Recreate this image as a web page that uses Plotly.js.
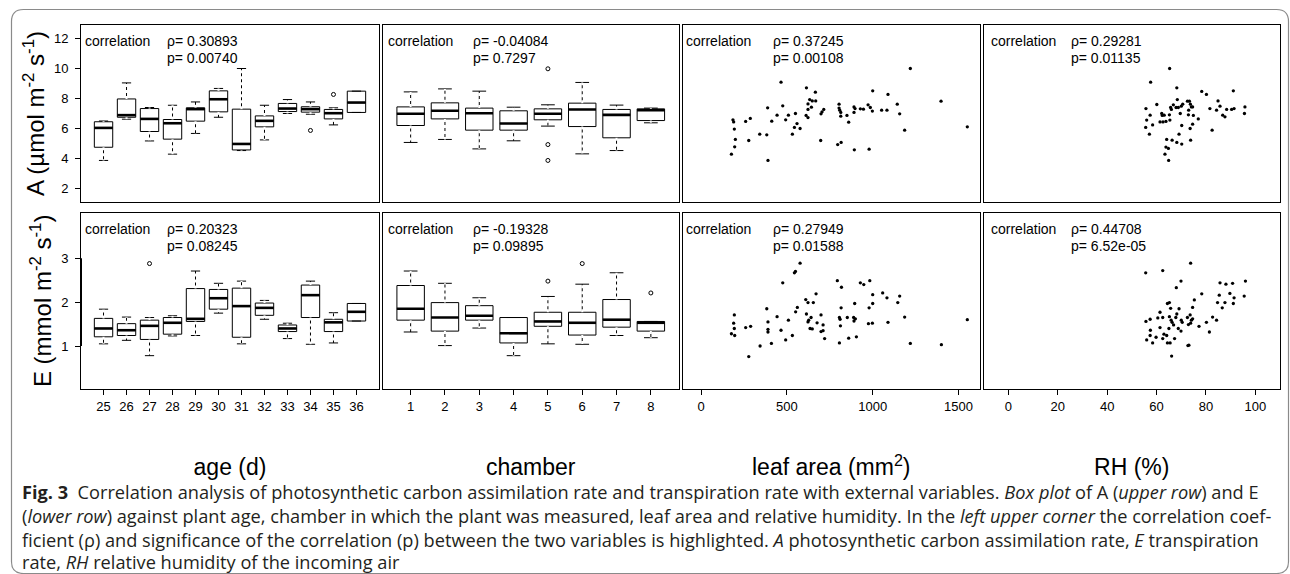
<!DOCTYPE html>
<html><head><meta charset="utf-8">
<script src="https://cdn.plot.ly/plotly-3.0.1.min.js"></script>
<style>html,body{margin:0;padding:0;background:#fff}</style>
</head><body>
<div id="chart" style="width:1290px;height:574px"></div>
<script>
// ---------------- DATA ----------------
const ageLabels = ['25','26','27','28','29','30','31','32','33','34','35','36'];
const chamberLabels = ['1','2','3','4','5','6','7','8'];

// A vs age (box statistics)
const ageA_low = [3.87, 6.62, 5.17, 4.29, 5.67, 6.75, 4.53, 5.24, 7.00, 6.95, 6.24, 7.07];
const ageA_q1  = [4.75, 6.75, 5.80, 5.29, 6.49, 7.11, 4.57, 6.11, 7.13, 7.09, 6.64, 7.07];
const ageA_med = [6.04, 6.89, 6.64, 6.35, 7.29, 7.95, 4.97, 6.51, 7.33, 7.29, 7.02, 7.73];
const ageA_q3  = [6.45, 7.97, 7.33, 6.60, 7.38, 8.51, 7.29, 6.84, 7.67, 7.45, 7.27, 8.49];
const ageA_up  = [6.50, 9.04, 7.40, 7.55, 7.77, 8.67, 10.0, 7.55, 7.93, 7.77, 7.38, 8.49];
const ageA_outCat = ['34','35'];
const ageA_outVal = [5.87, 8.27];

// E vs age
const ageE_low = [1.05, 1.13, 0.78, 1.23, 1.24, 1.75, 1.05, 1.61, 1.17, 1.04, 1.07, 1.57];
const ageE_q1  = [1.21, 1.24, 1.15, 1.27, 1.56, 1.84, 1.20, 1.70, 1.33, 1.65, 1.33, 1.57];
const ageE_med = [1.40, 1.36, 1.46, 1.53, 1.62, 2.09, 1.91, 1.87, 1.40, 2.16, 1.54, 1.78];
const ageE_q3  = [1.63, 1.51, 1.59, 1.65, 2.31, 2.29, 2.32, 1.98, 1.48, 2.39, 1.61, 1.97];
const ageE_up  = [1.84, 1.66, 1.65, 1.69, 2.71, 2.43, 2.48, 2.04, 1.52, 2.48, 1.76, 1.97];
const ageE_outCat = ['27'];
const ageE_outVal = [2.88];

// A vs chamber
const chA_low = [5.07, 5.27, 4.64, 5.18, 6.16, 4.31, 4.53, 6.38];
const chA_q1  = [6.20, 6.64, 5.89, 5.89, 6.58, 6.13, 5.38, 6.53];
const chA_med = [6.98, 7.18, 7.02, 6.33, 6.98, 7.27, 6.91, 7.22];
const chA_q3  = [7.44, 7.71, 7.36, 7.18, 7.31, 7.69, 7.27, 7.31];
const chA_up  = [8.44, 8.64, 8.49, 7.42, 7.58, 9.07, 7.56, 7.36];
const chA_outCat = ['5','5','5'];
const chA_outVal = [9.98, 4.93, 3.87];

// E vs chamber
const chE_low = [1.32, 1.01, 1.41, 0.78, 1.05, 1.04, 1.24, 1.19];
const chE_q1  = [1.59, 1.34, 1.59, 1.07, 1.45, 1.25, 1.43, 1.34];
const chE_med = [1.85, 1.65, 1.69, 1.29, 1.56, 1.53, 1.60, 1.53];
const chE_q3  = [2.38, 1.99, 1.92, 1.65, 1.77, 1.77, 2.06, 1.56];
const chE_up  = [2.71, 2.43, 2.10, 1.65, 2.13, 2.41, 2.67, 1.56];
const chE_outCat = ['5','6','8'];
const chE_outVal = [2.48, 2.88, 2.21];

// A vs leaf area (mm2)
const leafA_x = [1219,466,614,666,1000,1089,1398,388,476,623,633,648,668,643,623,715,705,699,804,804,808,814,814,850,860,891,897,891,928,946,973,986,998,1052,1083,1143,1157,1186,1551,443,412,493,509,550,612,623,559,544,577,532,342,383,278,287,260,186,190,194,200,196,177,390,697,796,816,893,979];
const leafA_y = [10.0,9.09,8.71,8.42,8.51,8.27,7.82,7.38,7.51,7.64,7.93,7.84,7.84,7.42,7.27,7.27,7.11,6.98,7.62,7.36,7.22,7.07,6.82,6.87,6.42,7.44,7.33,7.07,7.31,7.29,7.58,7.40,7.16,7.22,7.22,7.62,6.98,5.89,6.11,6.89,6.49,6.58,6.89,7.00,6.87,6.73,6.33,6.07,6.00,5.62,5.62,5.58,5.20,6.67,6.47,6.58,6.44,5.96,5.27,4.78,4.29,3.87,5.20,4.93,5.07,4.58,4.62];

// E vs leaf area
const leafE_x = [577,550,544,476,794,818,928,948,983,670,610,623,654,1000,1058,1083,1157,1146,1000,895,979,816,561,551,383,443,509,614,641,627,623,676,699,711,635,648,699,711,720,806,810,812,852,889,899,891,975,998,1089,1186,1219,1400,1551,806,860,905,532,493,466,390,390,390,410,344,278,289,260,194,190,194,196,177];
const leafE_y = [2.89,2.70,2.67,2.44,2.49,2.34,2.44,2.40,2.49,2.19,2.06,1.99,1.99,2.17,2.21,2.10,2.14,1.99,1.97,1.97,1.87,1.87,1.88,1.78,1.85,1.67,1.59,1.73,1.65,1.59,1.55,1.53,1.71,1.48,1.40,1.39,1.33,1.35,1.17,1.65,1.61,1.46,1.65,1.65,1.62,1.57,1.51,1.52,1.54,1.66,1.06,1.03,1.60,1.07,1.18,1.21,1.24,1.14,1.36,1.38,1.32,1.55,1.06,1.00,0.76,1.45,1.42,1.71,1.52,1.40,1.24,1.28];

// A vs RH (%)
const rhA_x = [65.3,57.6,68.2,78.3,80.2,91.1,68.4,84.9,55.7,60.1,57.4,56.0,55.6,58.4,57.1,62.1,62.3,61.4,62.6,63.8,65.4,65.2,65.7,66.0,66.8,67.9,68.8,70.0,70.6,72.5,73.3,73.7,74.1,74.6,73.0,69.6,72.9,74.9,76.9,74.6,73.6,70.2,69.1,64.1,66.3,68.2,70.2,73.8,63.8,64.8,63.4,64.9,82.5,81.6,84.3,85.7,86.8,87.7,88.4,90.4,91.4,95.8,95.6,63.1];
const rhA_y = [10.0,9.09,8.71,8.47,8.27,8.51,7.93,7.84,7.33,7.60,6.89,6.56,6.07,6.24,5.62,7.00,6.87,6.44,6.44,6.47,6.56,6.91,7.40,7.27,7.58,7.40,7.40,7.49,7.62,7.82,7.82,7.62,7.44,7.44,7.22,7.00,6.91,6.87,6.64,6.29,6.00,6.20,5.62,5.27,5.22,5.07,4.96,5.22,4.76,4.67,4.29,3.87,5.89,7.33,7.22,7.49,6.89,6.78,7.27,7.27,7.33,7.44,7.00,6.89];

// E vs RH
const rhE_x = [73.8,55.6,62.5,69.9,68.0,85.7,88.1,90.8,96.0,78.3,85.4,89.7,91.4,95.5,75.3,84.7,87.7,91.1,86.6,64.4,65.2,65.7,69.1,74.6,61.4,68.2,67.8,65.2,62.5,60.5,57.4,55.7,65.9,66.3,66.9,70.0,70.4,72.5,73.6,74.1,74.6,72.9,73.8,77.2,80.2,82.7,84.3,81.4,61.4,65.0,68.8,69.9,57.5,57.4,59.8,56.0,58.4,63.0,64.1,62.5,67.3,64.4,65.5,73.1,72.7,66.1];
const rhE_y = [2.89,2.67,2.72,2.48,2.33,2.44,2.41,2.43,2.48,2.19,2.16,2.20,2.10,2.14,2.05,1.99,1.99,1.97,1.87,1.97,1.99,1.86,1.85,1.88,1.77,1.73,1.65,1.67,1.65,1.64,1.61,1.56,1.59,1.54,1.48,1.59,1.54,1.65,1.71,1.59,1.62,1.49,1.52,1.45,1.54,1.66,1.59,1.32,1.42,1.40,1.40,1.34,1.36,1.24,1.20,1.14,1.07,1.27,1.24,1.17,1.17,1.07,1.07,1.02,1.01,0.77];

// correlation results (panel order: A-age, A-chamber, A-leaf, A-RH, E-age, E-chamber, E-leaf, E-RH)
const corrRho = ['0.30893','-0.04084','0.37245','0.29281','0.20323','-0.19328','0.27949','0.44708'];
const corrP   = ['0.00740','0.7297','0.00108','0.01135','0.08245','0.09895','0.01588','6.52e-05'];

// axis titles / ticks
const xTitles = ['age (d)','chamber','leaf area (mm<sup>2</sup>)','RH (%)'];
const yTitles = ['A (µmol m<sup>-2</sup> s<sup>-1</sup>)','E (mmol m<sup>-2</sup> s<sup>-1</sup>)'];
const yTicksA = [2,4,6,8,10,12];
const yTicksE = [1,2,3];

const captionLines = [
  '<b>Fig. 3</b>\u00a0 Correlation analysis of photosynthetic carbon assimilation rate and transpiration rate with external variables. <i>Box plot</i> of A (<i>upper row</i>) and E',
  '(<i>lower row</i>) against plant age, chamber in which the plant was measured, leaf area and relative humidity. In the <i>left upper corner</i> the correlation coef-',
  'ficient (ρ) and significance of the correlation (p) between the two variables is highlighted. <i>A</i> photosynthetic carbon assimilation rate, <i>E</i> transpiration',
  'rate, <i>RH</i> relative humidity of the incoming air'
];

// ---------------- LAYOUT CONSTANTS ----------------
const W = 1290, H = 574;
const colPx = [[81,379],[382.5,679],[683,979.5],[983.5,1280]];
const rowPx = [[25,202],[212.7,389]];
const xRanges = [[0.02,12.98],[0.18,8.82],[-105,1622],[-10.1,110]];
const yRanges = [[1.1,12.9],[0.02,4.04]];
const corrShift = [2, 3, 1, 5];     // px offset of "correlation" from panel edge
const statShift = [84, 88, 88, 85]; // px offset of rho / p text
const FONT = 'Liberation Sans, Arial, Helvetica, sans-serif';
const BOXHALF = 0.4;

function xd(c){return [colPx[c][0]/W, colPx[c][1]/W];}
function yd(r){return [1-rowPx[r][1]/H, 1-rowPx[r][0]/H];}

// ---------------- TRACES ----------------
const traces = [];
function boxPanel(ax, ay, labels, low, q1, med, q3, up, outCat, outVal){
  const pos = labels.map((_,i)=>i+1);
  traces.push({type:'box', orientation:'v', x:pos, q1:q1, median:med, q3:q3,
    lowerfence:low, upperfence:up, width:2*BOXHALF, whiskerwidth:0.5,
    line:{color:'#000', width:1}, fillcolor:'#fff', boxpoints:false,
    hoverinfo:'skip', xaxis:ax, yaxis:ay, showlegend:false});
  // dashed look on whiskers (white dashes over the solid whisker)
  const wx=[], wy=[];
  pos.forEach((p,i)=>{ wx.push(p,p,null,p,p,null); wy.push(q3[i],up[i],null,q1[i],low[i],null); });
  traces.push({type:'scatter', mode:'lines', x:wx, y:wy, line:{color:'#fff', width:2, dash:'3px,3px'},
    hoverinfo:'skip', xaxis:ax, yaxis:ay, showlegend:false, connectgaps:false});
  // thick medians
  const mx=[], my=[];
  pos.forEach((p,i)=>{ mx.push(p-BOXHALF,p+BOXHALF,null); my.push(med[i],med[i],null); });
  traces.push({type:'scatter', mode:'lines', x:mx, y:my, line:{color:'#000', width:2.6},
    hoverinfo:'skip', xaxis:ax, yaxis:ay, showlegend:false});
  // outliers
  traces.push({type:'scatter', mode:'markers', x:outCat.map(c=>labels.indexOf(c)+1), y:outVal,
    marker:{symbol:'circle-open', size:4, color:'#000', line:{width:1, color:'#000'}},
    hoverinfo:'skip', xaxis:ax, yaxis:ay, showlegend:false});
}
function scatterPanel(ax, ay, xs, ys){
  traces.push({type:'scatter', mode:'markers', x:xs, y:ys,
    marker:{size:3.3, color:'#000'}, hoverinfo:'skip', xaxis:ax, yaxis:ay, showlegend:false});
}

boxPanel('x','y', ageLabels, ageA_low, ageA_q1, ageA_med, ageA_q3, ageA_up, ageA_outCat, ageA_outVal);
boxPanel('x2','y2', chamberLabels, chA_low, chA_q1, chA_med, chA_q3, chA_up, chA_outCat, chA_outVal);
scatterPanel('x3','y3', leafA_x, leafA_y);
scatterPanel('x4','y4', rhA_x, rhA_y);
boxPanel('x5','y5', ageLabels, ageE_low, ageE_q1, ageE_med, ageE_q3, ageE_up, ageE_outCat, ageE_outVal);
boxPanel('x6','y6', chamberLabels, chE_low, chE_q1, chE_med, chE_q3, chE_up, chE_outCat, chE_outVal);
scatterPanel('x7','y7', leafE_x, leafE_y);
scatterPanel('x8','y8', rhE_x, rhE_y);

// ---------------- AXES ----------------
const layout = {
  width:W, height:H, margin:{l:0,r:0,t:0,b:0}, paper_bgcolor:'#fff', plot_bgcolor:'#fff',
  showlegend:false, font:{family:FONT, color:'#000', size:13},
  annotations:[], shapes:[]
};
const tickFont = {family:FONT, size:13, color:'#000'};
const xTickSpec = [
  {tickmode:'array', tickvals:ageLabels.map((_,i)=>i+1), ticktext:ageLabels},
  {tickmode:'array', tickvals:chamberLabels.map((_,i)=>i+1), ticktext:chamberLabels},
  {tickmode:'linear', tick0:0, dtick:500},
  {tickmode:'linear', tick0:0, dtick:20}
];
for(let k=0;k<8;k++){
  const r = k<4?0:1, c = k%4, n = k+1;
  const xn = n===1?'xaxis':'xaxis'+n, yn = n===1?'yaxis':'yaxis'+n;
  const xa = {domain:xd(c), range:xRanges[c], anchor:n===1?'y':'y'+n, showline:true, mirror:true,
    linecolor:'#000', linewidth:1, showgrid:false, zeroline:false, fixedrange:true,
    tickfont:tickFont, ticklen:5, tickwidth:1, tickcolor:'#000'};
  Object.assign(xa, xTickSpec[c]);
  if(r===1){ xa.ticks='outside'; xa.showticklabels=true;
    xa.title={text:xTitles[c], font:{family:FONT, size:23, color:'#000'}, standoff:46}; }
  else { xa.ticks=''; xa.showticklabels=false; }
  const ya = {domain:yd(r), range:yRanges[r], anchor:n===1?'x':'x'+n, showline:true, mirror:true,
    linecolor:'#000', linewidth:1, showgrid:false, zeroline:false, fixedrange:true,
    tickfont:tickFont, ticklen:5, tickwidth:1, tickcolor:'#000',
    tickmode:'array', tickvals:r===0?yTicksA:yTicksE};
  if(c===0){ ya.ticks='outside'; ya.showticklabels=true; ya.ticklabelstandoff=4;
    ya.title={text:yTitles[r], font:{family:FONT, size:24, color:'#000'}, standoff:2}; }
  else { ya.ticks=''; ya.showticklabels=false; }
  layout[xn]=xa; layout[yn]=ya;

  // correlation text
  const x0 = colPx[c][0]/W, yTop = 1-rowPx[r][0]/H;
  const af = {family:FONT, size:14, color:'#000'};
  layout.annotations.push({xref:'paper', yref:'paper', x:x0, y:yTop, xanchor:'left', yanchor:'middle',
    xshift:corrShift[c], yshift:-16, text:'correlation', showarrow:false, font:af});
  layout.annotations.push({xref:'paper', yref:'paper', x:x0, y:yTop, xanchor:'left', yanchor:'middle',
    xshift:statShift[c], yshift:-16, text:'ρ= '+corrRho[k], showarrow:false, font:af});
  layout.annotations.push({xref:'paper', yref:'paper', x:x0, y:yTop, xanchor:'left', yanchor:'middle',
    xshift:statShift[c], yshift:-33.5, text:'p= '+corrP[k], showarrow:false, font:af});
}

// R-style axis line spanning first..last tick on the lower-row y axis
layout.shapes.push({type:'line', xref:'x5 domain', x0:0, x1:0, yref:'y5',
  y0:Math.min(...yTicksE), y1:Math.max(...yTicksE), line:{color:'#000', width:2}});

// caption
const capY = [492, 516, 540, 562];
captionLines.forEach((t,i)=>{
  layout.annotations.push({xref:'paper', yref:'paper', x:20/W, y:1-capY[i]/H, xanchor:'left', yanchor:'middle',
    text:t, showarrow:false, font:{family:'Open Sans, Noto Sans, sans-serif', size:18.2, color:'#231f20'}});
});

// rounded figure frame
(function(){
  const L=11.5, T=9.5, R=1288.5, B=573.5, rad=12;
  const X=p=>(p/W).toFixed(5), Y=p=>(1-p/H).toFixed(5);
  const d = 'M'+X(L+rad)+','+Y(T)+' L'+X(R-rad)+','+Y(T)+' Q'+X(R)+','+Y(T)+' '+X(R)+','+Y(T+rad)+
    ' L'+X(R)+','+Y(B-rad)+' Q'+X(R)+','+Y(B)+' '+X(R-rad)+','+Y(B)+
    ' L'+X(L+rad)+','+Y(B)+' Q'+X(L)+','+Y(B)+' '+X(L)+','+Y(B-rad)+
    ' L'+X(L)+','+Y(T+rad)+' Q'+X(L)+','+Y(T)+' '+X(L+rad)+','+Y(T)+' Z';
  layout.shapes.push({type:'path', xref:'paper', yref:'paper', path:d, line:{color:'#8a8a8a', width:1.2}, layer:'below'});
})();

Plotly.newPlot('chart', traces, layout, {displayModeBar:false, staticPlot:true});
</script>
</body></html>
